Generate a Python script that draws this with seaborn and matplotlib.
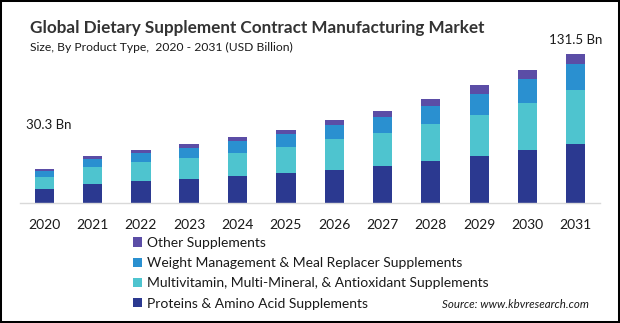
import matplotlib
matplotlib.use("Agg")
import matplotlib.pyplot as plt
import seaborn as sns
import numpy as np
import pandas as pd
from matplotlib.patches import Rectangle, Patch

years = ["2020", "2021", "2022", "2023", "2024", "2025", "2026", "2027", "2028", "2029", "2030", "2031"]
proteins = [12.6, 17.0, 19.7, 21.4, 24.1, 26.7, 29.7, 32.9, 37.3, 41.7, 47.1, 52.3]
multivitamin = [10.9, 15.3, 17.0, 18.8, 20.6, 23.2, 26.5, 29.4, 32.9, 36.5, 40.9, 47.1]
weight_mgmt = [5.0, 6.8, 7.7, 8.6, 10.6, 11.5, 12.4, 14.1, 15.9, 18.5, 21.2, 22.9]
other = [1.8, 2.6, 2.6, 3.8, 3.5, 3.5, 4.4, 5.3, 5.9, 7.1, 7.9, 9.2]

series_names = [
    "Proteins & Amino Acid Supplements",
    "Multivitamin, Multi-Mineral, & Antioxidant Supplements",
    "Weight Management & Meal Replacer Supplements",
    "Other Supplements",
]
colors = ["#2B3990", "#4EC4CF", "#2A90D0", "#5B4DA6"]
first_label = "30.3 Bn"
last_label = "131.5 Bn"

sns.set_theme(style="white")
plt.rcParams["font.family"] = ["Lato", "DejaVu Sans"]

W, H = 620, 323
fig = plt.figure(figsize=(W / 100, H / 100), dpi=100)
fig.patch.set_facecolor("white")

ax_left, ax_right = 20 / W, 600 / W
base_y = 203.3
top_y = 39.0
ax = fig.add_axes([ax_left, (H - base_y) / H, ax_right - ax_left, (base_y - top_y) / H])

df = pd.DataFrame({"year": years})
layers = [proteins, multivitamin, weight_mgmt, other]
cum = np.cumsum(np.array(layers), axis=0)
for i in range(len(layers) - 1, -1, -1):
    df["v"] = cum[i]
    sns.barplot(data=df, x="year", y="v", color=colors[i], width=0.4,
                saturation=1, ax=ax, linewidth=0, edgecolor="none")

ax.set_xlim(-0.5, 11.5)
ax.set_ylim(0, (base_y - top_y) * 131.5 / (base_y - 54))
ax.set_xlabel("")
ax.set_ylabel("")
ax.set_yticks([])
for s in ["top", "right", "left"]:
    ax.spines[s].set_visible(False)
ax.spines["bottom"].set_color("#D9D9D9")
ax.spines["bottom"].set_linewidth(1)
ax.tick_params(axis="x", length=0, pad=11, labelsize=10, labelcolor="#1a1a1a")

def fx(px):
    return px / W

def fy(py):
    return 1 - py / H

fig.text(fx(30), fy(28), "Global Dietary Supplement Contract Manufacturing Market",
         fontsize=12.3, fontweight="bold", color="#333333", va="center", ha="left")
fig.text(fx(30), fy(47), "Size, By Product Type,  2020 - 2031 (USD Billion)",
         fontsize=8.7, color="#1a1a1a", va="center", ha="left")
fig.text(fx(49), fy(125), first_label, fontsize=9.5, color="#1a1a1a", va="center", ha="center")
fig.text(fx(576), fy(40), last_label, fontsize=9.5, color="#1a1a1a", va="center", ha="center")

handles = [Patch(facecolor=colors[i], edgecolor="none") for i in range(3, -1, -1)]
labels = [series_names[i] for i in range(3, -1, -1)]
fig.legend(handles, labels, loc="upper left", bbox_to_anchor=(fx(133), fy(237)),
           frameon=False, fontsize=10, handlelength=0.65, handleheight=0.65,
           handletextpad=0.35, labelspacing=0.59, borderpad=0, borderaxespad=0,
           labelcolor="#1a1a1a")

fig.text(fx(589), fy(305), "Source: www.kbvresearch.com", fontsize=8.3, style="italic",
         color="#1a1a1a", va="center", ha="right")

fig.patches.append(Rectangle((0, 0), 1, 1, transform=fig.transFigure, fill=False,
                             lw=2.9, ec="black", zorder=10))

fig.savefig("out.png", dpi=100)
